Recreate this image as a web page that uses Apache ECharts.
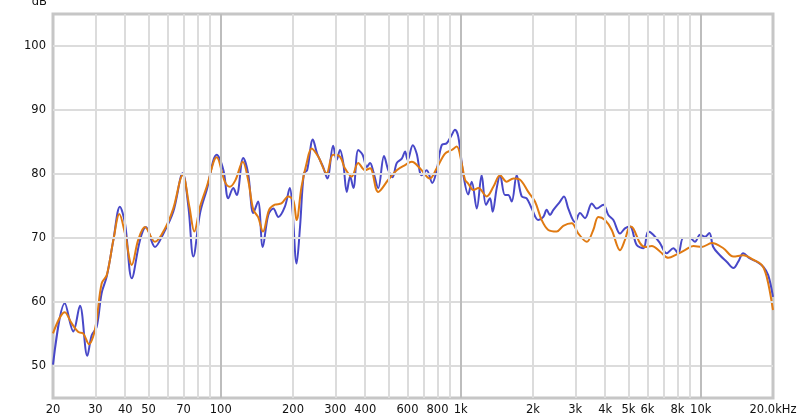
<!DOCTYPE html>
<html>
<head>
<meta charset="utf-8">
<script src="https://cdn.jsdelivr.net/npm/echarts@6/dist/echarts.min.js"></script>
<style>
html,body{margin:0;padding:0;background:#fff;}
#c{width:800px;height:418px;}
</style>
</head>
<body>
<div id="c"></div>
<script>
// Frequencies (Hz) and levels (dB)
const blueFreq = [20,22.4,24.3,25.9,27.8,29,30.4,31.9,33.5,35.7,38,39.9,42.6,46.1,48.8,53.2,57.7,63.4,69.4,73.3,76.9,82,87.4,96.2,102.6,107.5,112.8,116.5,124,130,136.7,143,149.6,157.8,165.6,173.8,185,194,199,207,214,222,229,242,252,267,278,294,304,314,324,335,346,357,374,390,406,419,432,453,479,499,520,541,568,586,601,631,655,687,721,761,794,833,874,917,946,977,1024,1074,1111,1166,1222,1274,1324,1358,1412,1458,1528,1577,1630,1710,1795,1882,1976,2104,2208,2281,2354,2432,2592,2692,2806,2992,3140,3294,3516,3682,3926,4120,4324,4610,4832,5072,5408,5768,6040,6340,6760,7212,7692,8060,8454,9016,9460,9930,10420,10860,11274,12020,12824,13678,14332,15032,16034,17100,18240,19100,20000];
const blueDb = [50.2,59.8,55.4,59.4,51.6,54.8,56.1,61.4,64,69.7,74.9,72.3,63.7,69.7,71.7,68.6,70.7,74.1,80.1,74.9,67.1,73.9,77.5,83,80.6,76.2,77.8,76.7,82.5,80.1,73.9,75.7,68.6,73.6,74.6,73.3,74.9,77.8,74.4,66,71.8,80.1,80.6,85.4,83.2,81.1,79.3,84.4,82.2,83.75,81.7,77.2,79.6,77.8,83.75,83,81.1,81.7,80.4,77.8,82.8,80.6,79.5,81.7,82.4,83.5,82.2,84.5,83.2,79.8,80.6,78.6,80.6,84.5,84.8,86.1,86.9,85.8,80,76.8,78.8,74.6,79.8,75.2,76.2,74.1,77.8,79.8,76.7,76.7,75.7,79.8,76.5,76.2,74.6,72.8,73.3,74.4,73.6,74.4,75.7,76.5,74.6,72.5,73.9,73.1,75.4,74.6,75.2,73.6,72.8,70.7,71.5,71.8,68.9,68.4,71,70.5,69.2,67.6,68.4,67.6,70,70,69.4,70.5,70.2,70.8,68.6,67.3,66.3,65.3,66.3,67.6,66.8,66.3,65.5,64.2,60.8];

const orangeFreq = [20,22.4,23.9,25.5,26.7,28.3,29.4,30.4,31.9,33.5,35.7,37.8,39.9,42.6,45.3,48.3,53.2,58.6,63.4,69.4,74,77.6,82,87.4,96.2,104,109,115,123.5,130,136.7,143,150,159,168,179,191,200.6,207,217,228,239,255,276,294,314,329,351,374,399,419,453,499,541,586,625,676,744,794,860,917,962,1009,1042,1074,1128,1184,1282,1367,1458,1553,1656,1766,1911,2038,2174,2316,2512,2674,2898,3090,3350,3566,3742,3990,4256,4610,4832,5072,5236,5584,5862,6252,6760,7328,7944,8590,9312,10094,11118,12418,13678,15032,16558,17950,18838,20000];
const orangeDb = [55.1,58.4,56.7,55.3,55.1,53.4,54.6,57.2,62.9,64.2,69.7,73.75,70.7,65.8,69.7,71.7,69.4,71.5,74.6,79.8,74.9,71,74.9,78,82.6,78.8,78,79,81.9,79.1,74.4,73.3,71,74.4,75.2,75.4,76.5,75.9,72.8,78,81.7,84,82.7,80.1,83,82.7,80.9,79.6,81.7,80.6,80.9,77.2,79.1,80.6,81.4,81.9,80.9,79.3,80.9,83.2,83.75,84.3,81.7,79.1,78.5,77.5,77.8,76.5,78,79.8,78.8,79.3,79.1,77.2,75.7,72.8,71.25,71,71.9,72.3,70.7,69.4,71.25,73.3,72.8,71.25,68.1,69.7,71.8,71.5,69.2,68.6,68.75,67.9,66.9,67.45,68.1,68.75,68.6,69.2,68.4,67.1,67.3,66.6,65.8,63.9,58.75];

// Axis ticks / grid
const xGridMinor = [30,40,50,60,70,80,90,200,300,400,500,600,700,800,900,2000,3000,4000,5000,6000,7000,8000,9000];
const xGridMajor = [100,1000,10000];
const xLabelVals = [20,30,40,50,70,100,200,300,400,600,800,1000,2000,3000,4000,5000,6000,8000,10000,20000];
const xLabelText = ['20','30','40','50','70','100','200','300','400','600','800','1k','2k','3k','4k','5k','6k','8k','10k','20.0kHz'];
const yGrid = [50,60,70,80,90,100];

const pair = (fs, ds) => fs.map((f, i) => [f, ds[i]]);
const font = 'DejaVu Sans';

const chart = echarts.init(document.getElementById('c'), null, {renderer: 'canvas'});
chart.setOption({
  animation: false,
  backgroundColor: '#fff',
  grid: {left: 53, right: 27, top: 14, bottom: 20, outerBoundsMode: 'none', containLabel: false,
         show: true, borderColor: '#c6c6c6', borderWidth: 3, backgroundColor: 'transparent'},
  xAxis: {
    type: 'log', logBase: 10, min: 20, max: 20000,
    axisLine: {show: false}, axisTick: {show: false},
    splitLine: {show: false}, minorSplitLine: {show: false},
    axisLabel: {
      customValues: xLabelVals,
      showMinLabel: true, showMaxLabel: true, hideOverlap: false,
      margin: 6, color: '#111', fontFamily: font, fontSize: 11.5,
      formatter: function (v) {
        let best = 0, bd = Infinity;
        xLabelVals.forEach((x, i) => { const d = Math.abs(Math.log10(x) - Math.log10(v)); if (d < bd) { bd = d; best = i; } });
        return xLabelText[best];
      }
    }
  },
  yAxis: {
    type: 'value', min: 45, max: 105,
    name: 'dB', nameLocation: 'end', nameGap: 6, nameMoveOverlap: false,
    nameTextStyle: {color: '#111', fontFamily: font, fontSize: 11.5, align: 'right', padding: [0, 6, 0, 0]},
    axisLine: {show: false}, axisTick: {show: false}, splitLine: {show: false},
    axisLabel: {
      customValues: yGrid,
      margin: 7, color: '#111', fontFamily: font, fontSize: 11.5
    }
  },
  series: [
    {
      type: 'line', data: pair(blueFreq, blueDb), symbol: 'none', silent: true, z: 1,
      lineStyle: {opacity: 0},
      markLine: {
        silent: true, symbol: 'none', label: {show: false}, animation: false,
        data: [].concat(
          xGridMinor.map(v => ({xAxis: v, lineStyle: {color: '#dcdcdc', width: 2, type: 'solid'}})),
          yGrid.map(v => ({yAxis: v, lineStyle: {color: '#dcdcdc', width: 2, type: 'solid'}})),
          xGridMajor.map(v => ({xAxis: v, lineStyle: {color: '#bdbdbd', width: 2, type: 'solid'}}))
        )
      }
    },
    {
      name: 'blue', type: 'line', data: pair(blueFreq, blueDb), symbol: 'none', smooth: 0.35, z: 3,
      lineStyle: {color: '#4848c8', width: 2}
    },
    {
      name: 'orange', type: 'line', data: pair(orangeFreq, orangeDb), symbol: 'none', smooth: 0.35, z: 4,
      lineStyle: {color: '#e07a12', width: 2}
    }
  ]
});
</script>
</body>
</html>
